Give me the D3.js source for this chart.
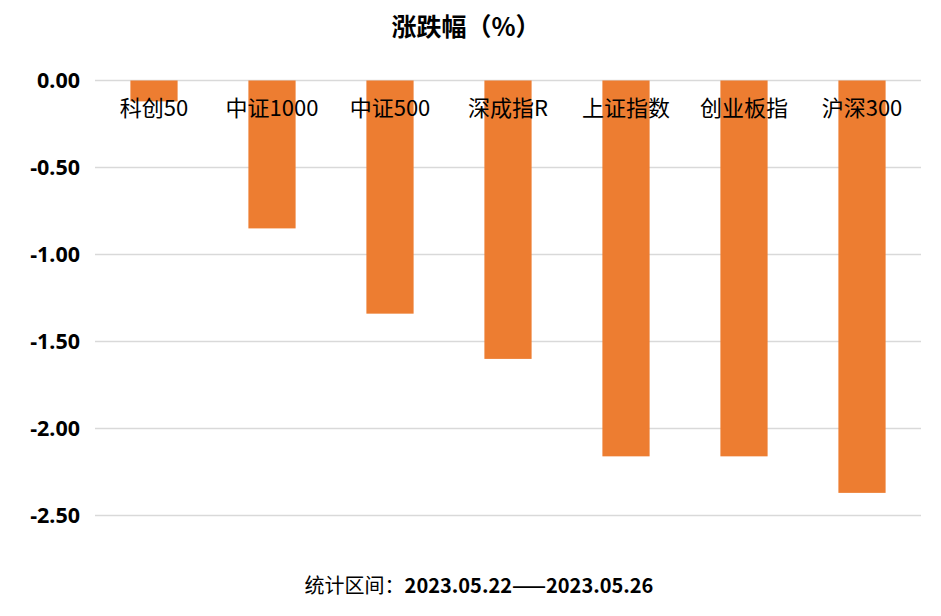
<!DOCTYPE html>
<html>
<head>
<meta charset="utf-8">
<script src="https://cdn.jsdelivr.net/npm/d3@7"></script>
<style>
body { margin: 0; background: #fff; }
text { font-family: "Noto Sans CJK SC", "Noto Sans", sans-serif; }
</style>
</head>
<body>
<div id="main"></div>
<script>
// data
var categories = ["科创50", "中证1000", "中证500", "深成指R", "上证指数", "创业板指", "沪深300"];
var values = [-0.12, -0.85, -1.34, -1.60, -2.16, -2.16, -2.37];
var yTicks = [0, -0.5, -1, -1.5, -2, -2.5];

var w = 941,
	h = 616;

var margin = { left: 95, right: 20, top: 80.5, bottom: 100.5 };

var svg = d3.select("#main")
	.append("svg")
	.attr("width", w)
	.attr("height", h);

var x = d3.scaleBand()
	.domain(categories)
	.range([margin.left, w - margin.right])
	.paddingInner(0.6)
	.paddingOuter(0.3);

var y = d3.scaleLinear()
	.domain([0, -2.5])
	.range([margin.top, h - margin.bottom]);

// gridlines
svg.append("g")
	.selectAll("line")
	.data(yTicks)
	.enter()
	.append("line")
	.attr("x1", margin.left)
	.attr("x2", w - margin.right)
	.attr("y1", function(d) { return y(d); })
	.attr("y2", function(d) { return y(d); })
	.attr("stroke", "#d9d9d9")
	.attr("stroke-width", 1.5);

// y labels (plain hyphen, not unicode minus)
var yAxis = d3.axisLeft(y)
	.tickValues(yTicks)
	.tickSize(0)
	.tickPadding(15)
	.tickFormat(function(d) { return d.toFixed(2); });

svg.append("g")
	.attr("transform", "translate(" + margin.left + ",0)")
	.call(yAxis)
	.call(function(g) { g.select(".domain").remove(); })
	.selectAll("text")
	.attr("font-size", 21.5)
	.attr("font-weight", "bold")
	.attr("fill", "#000")
	.style("font-family", "'Noto Sans', sans-serif");

// bars
svg.append("g")
	.selectAll("rect")
	.data(values)
	.enter()
	.append("rect")
	.attr("x", function(d, i) { return x(categories[i]); })
	.attr("y", y(0))
	.attr("width", x.bandwidth())
	.attr("height", function(d) { return y(d) - y(0); })
	.attr("fill", "#ed7d31");

// category labels
svg.append("g")
	.selectAll("text")
	.data(categories)
	.enter()
	.append("text")
	.attr("x", function(d) { return x(d) + x.bandwidth() / 2; })
	.attr("y", y(0) + 35)
	.attr("text-anchor", "middle")
	.attr("font-size", 22)
	.attr("fill", "#000")
	.text(function(d) { return d; });

// title
svg.append("text")
	.attr("x", 466)
	.attr("y", 36)
	.attr("text-anchor", "middle")
	.attr("font-size", 25)
	.attr("font-weight", "bold")
	.text("涨跌幅（%）");

// footnote
var foot = svg.append("text")
	.attr("x", 479)
	.attr("y", 593)
	.attr("text-anchor", "middle")
	.attr("font-size", 20);
foot.append("tspan").text("统计区间：");
foot.append("tspan").attr("font-weight", "bold").text("2023.05.22——2023.05.26");
</script>
</body>
</html>
